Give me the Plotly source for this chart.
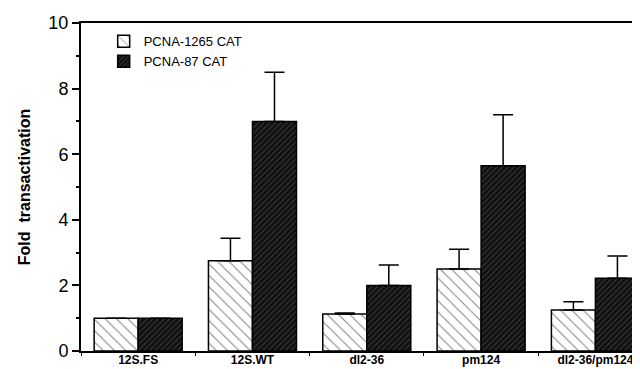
import plotly.graph_objects as go

categories = ["12S.FS", "12S.WT", "dl2-36", "pm124", "dl2-36/pm124"]
pcna1265 = [1.0, 2.75, 1.13, 2.5, 1.25]
pcna1265_err = [0.0, 0.69, 0.03, 0.6, 0.25]
pcna87 = [1.0, 7.0, 2.0, 5.65, 2.22]
pcna87_err = [0.0, 1.5, 0.62, 1.55, 0.68]

fig = go.Figure()
fig.add_trace(go.Bar(
    name="PCNA-1265 CAT", x=categories, y=pcna1265,
    marker=dict(color="white", line=dict(color="black", width=1.5),
                pattern=dict(shape="\\", bgcolor="white", fgcolor="black",
                             size=8, solidity=0.12)),
    error_y=dict(type="data", array=pcna1265_err, arrayminus=[0]*5, symmetric=False,
                 color="black", thickness=1.5, width=10),
))
fig.add_trace(go.Bar(
    name="PCNA-87 CAT", x=categories, y=pcna87,
    marker=dict(color="black", line=dict(color="black", width=1.5),
                pattern=dict(shape="/", bgcolor="#111111", fgcolor="#999999",
                             size=4, solidity=0.2)),
    error_y=dict(type="data", array=pcna87_err, arrayminus=[0]*5, symmetric=False,
                 color="black", thickness=1.5, width=10),
))

fig.update_layout(
    width=640, height=369,
    margin=dict(l=73, r=0, t=15, b=26),
    paper_bgcolor="white", plot_bgcolor="white",
    barmode="group", bargap=0.23, bargroupgap=0,
    font=dict(family="Liberation Sans, Arial", color="black", size=12),
    showlegend=True,
    legend=dict(x=0.04, y=0.99, xanchor="left", yanchor="top",
                bgcolor="rgba(0,0,0,0)", font=dict(size=13),
                itemwidth=30, tracegroupgap=0),
)
fig.update_xaxes(
    showline=True, linecolor="black", linewidth=2, mirror=True,
    ticks="outside", tickson="boundaries", ticklen=3, tickcolor="black",
    showgrid=False, range=[-0.5, 4.46], ticklabelstandoff=-3,
    tickfont=dict(size=12, family="Liberation Sans, Arial", weight="bold"),
)
fig.update_yaxes(
    range=[0, 10], showline=True, linecolor="black", linewidth=2,
    ticks="outside", ticklen=7, tickcolor="black", tickwidth=2, dtick=2,
    showgrid=False, zeroline=False,
    minor=dict(ticks="outside", ticklen=3, dtick=1, tickcolor="black"),
    tickfont=dict(size=18, family="Liberation Sans, Arial"),
    title=dict(text="<b>Fold  transactivation</b>", font=dict(size=16), standoff=14),
)
fig.write_html("out.html")
